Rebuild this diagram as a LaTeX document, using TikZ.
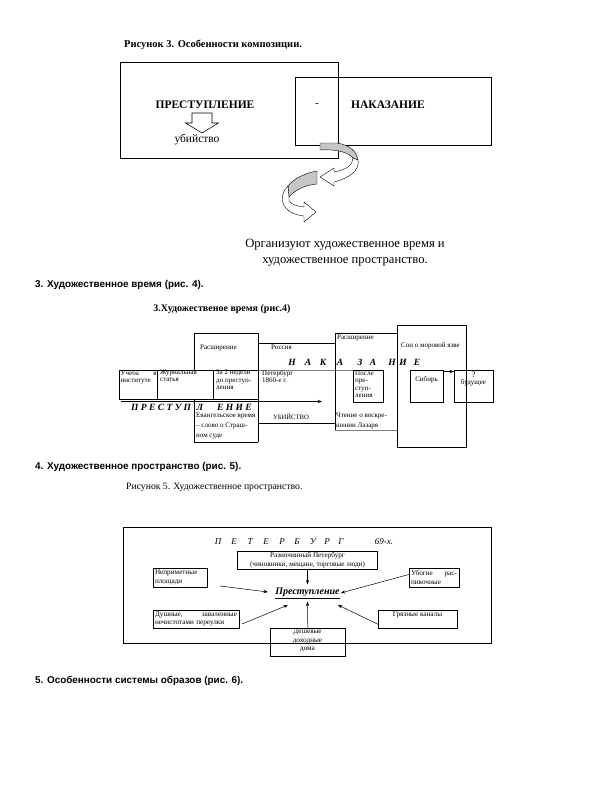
\documentclass[tikz,border=0pt]{standalone}
\usepackage{fontspec}
\setmainfont{Liberation Serif}
\newfontfamily\sansf{Liberation Sans}
\usetikzlibrary{arrows.meta}
\begin{document}
\begin{tikzpicture}[x=1pt,y=-1pt,
  ln/.style={line width=0.55pt},
  thin/.style={line width=0.4pt},
  bx/.style={draw,line width=0.6pt,inner sep=1.5pt},
  arr/.style={line width=0.5pt,-{Stealth[length=4.5pt,width=3.2pt]}},
  head/.style={inner sep=0,anchor=west,font=\sansf\bfseries\fontsize{9.9}{11}\selectfont},
  tiny/.style={inner sep=0,font=\fontsize{7}{7.4}\selectfont,align=left},
  small/.style={inner sep=0,font=\fontsize{7.2}{8.5}\selectfont},
  nk/.style={inner sep=0,font=\bfseries\itshape\fontsize{9.5}{10}\selectfont},
  pt/.style={inner sep=0,font=\itshape\fontsize{9}{10}\selectfont}]
\useasboundingbox (0,0) rectangle (612,792);

% ---------------- Figure 3 ----------------
\node[inner sep=0,anchor=west,font=\bfseries\fontsize{10.5}{12}\selectfont] (t3) at (124,45) {Рисунок 3. Особенности композиции.};
\node[draw,ln,minimum width=218,minimum height=96,anchor=north west,inner sep=0] (lbox) at (120,62) {};
\node[draw,ln,minimum width=196,minimum height=68,anchor=north west,inner sep=0] (rbox) at (295,77) {};
\node[inner sep=0,font=\bfseries\fontsize{11.5}{12}\selectfont] (prs) at (205,105) {ПРЕСТУПЛЕНИЕ};
\node[inner sep=0,font=\fontsize{11}{12}\selectfont] (dash) at (317,105) {-};
\node[inner sep=0,font=\bfseries\fontsize{11.5}{12}\selectfont] (nak) at (388,105) {НАКАЗАНИЕ};
\draw[ln,fill=white] (192,113) -- (212,113) -- (212,123) -- (218.5,123) -- (202,133) -- (185.5,123) -- (192,123) -- cycle;
\node[inner sep=0,font=\fontsize{11.5}{12}\selectfont] (ub) at (197,140) {убийство};
% curved arrow 1
\draw[thin,fill=gray!45] (320,143) -- (337,143) .. controls (350,145) and (357,152) .. (358,160) -- (353,158) .. controls (348,152) and (336,149) .. (320,150) -- cycle;
\draw[thin,fill=white] (358,160) .. controls (360,170) and (350,178) .. (334,182) -- (334,186) -- (320,177) -- (334,168) -- (334,172) .. controls (346,170) and (353,165) .. (353,158) -- cycle;
% curved arrow 2
\draw[thin,fill=gray!45] (317,171) -- (317,184) .. controls (305,185) and (295,190) .. (289,197) -- (288,186) .. controls (293,179) and (305,173) .. (317,171) -- cycle;
\draw[thin,fill=white] (288,186) .. controls (276,198) and (283,214) .. (304,216) -- (304,222) -- (316,212) -- (304,202) -- (304,207) .. controls (293,206) and (287,202) .. (289,197) -- cycle;
\node[inner sep=0,font=\fontsize{12.6}{14}\selectfont] (org1) at (345,245) {Организуют художественное время и};
\node[inner sep=0,font=\fontsize{12.6}{14}\selectfont] (org2) at (345,262) {художественное пространство.};

% ---------------- Heading 3 ----------------
\node[head] (h3) at (35,285) {3. Художественное время (рис. 4).};

% ---------------- Figure 4 ----------------
\node[inner sep=0,font=\bfseries\fontsize{10}{11}\selectfont] (t4) at (222,309) {3.Художественое время (рис.4)};
\draw[ln] (194,333) rectangle (258,370);
\draw[ln] (119,370) -- (258,370);
\draw[thin,gray] (258,370) -- (353,370);
\draw[ln] (119,370) -- (119,399) -- (258,399);
\draw[ln] (157,370) -- (157,399);
\draw[ln] (213,370) -- (213,399);
\draw[ln] (258,333) -- (258,442);
\draw[ln] (194,399) -- (194,442) -- (258,442);
\draw[ln] (258,343) -- (335,343);
\draw[ln] (258,423) -- (335,423);
\draw[ln] (335,333) -- (335,430);
\draw[ln] (335,333) -- (397,333);
\draw[thin,gray] (335,430) -- (397,430);
\draw[ln] (397,325) rectangle (466,447);
\node[draw,ln,minimum width=30,minimum height=32,anchor=north west,inner sep=0] (posle) at (353,370) {};
\node[draw,ln,minimum width=33,minimum height=32,anchor=north west,inner sep=0] (sib) at (410,370) {};
\node[draw,ln,minimum width=39,minimum height=32,anchor=north west,inner sep=0] (bud) at (454,370) {};
\draw[arr] ([yshift=-1.5pt]sib.north east) -- ([yshift=-1.5pt]bud.north west);
\coordinate (pstart) at (121,401.5);
\coordinate (pend) at (322,401.5);
\draw[arr] (pstart) -- (pend);

\node[tiny,anchor=west] (r1) at (200,348) {Расширение};
\node[tiny,anchor=west] (ros) at (271,347) {Россия};
\node[tiny,anchor=west] (r2) at (337,338) {Расширение};
\node[tiny,anchor=west] (son) at (401,346) {Сон о моровой язве};
\node[tiny,anchor=north west,text width=36] (uch) at (120.5,369.8) {Учеба\hfill в\\институте};
\node[tiny,anchor=north west] (zh) at (160,369.8) {Журнальная\\статья};
\node[tiny,anchor=north west] (za) at (216,369.8) {За 2 недели\\до преступ-\\ления};
\node[tiny,anchor=north west] (pet) at (262,369.8) {Петербург\\1860-е г.};
\node[tiny,anchor=north west] (pos) at (355,370.5) {После\\пре-\\ступ-\\ления};
\node[tiny] (sibt) at (426.5,380) {Сибирь};
\node[tiny,align=center,anchor=north] (budt) at (473.5,371.5) {\fontsize{8.5}{9}\selectfont ?\\будущее};
\node[tiny,anchor=north west,font=\fontsize{7}{10}\selectfont] (ev) at (196,412.5) {Евангельское время\\– слово о Страш-\\ном суде};
\node[tiny,anchor=center,font=\fontsize{6.6}{7}\selectfont] (ubi) at (291,417) {УБИЙСТВО};
\node[tiny,anchor=north west,font=\fontsize{7}{10}\selectfont] (cht) at (336,412.5) {Чтение о воскре-\\шении Лазаря};
\foreach \x/\l [count=\i] in {292/Н,308/А,323/К,340/А,360/З,373/А,392/Н,403/И,417/Е}
  \node[nk] (nk\i) at (\x,362) {\l};
\node[nk,anchor=west] (pr1) at (131,407) {П Р Е С Т У П};
\node[nk] (pr2) at (200,407) {Л};
\node[nk,anchor=west] (pr3) at (217,407) {Е Н И Е};

% ---------------- Heading 4 ----------------
\node[head] (h4) at (35,467) {4. Художественное пространство (рис. 5).};

% ---------------- Figure 5 ----------------
\node[inner sep=0,anchor=west,font=\fontsize{9.7}{10}\selectfont] (t5) at (126,487) {Рисунок 5. Художественное пространство.};
\draw[ln] (123,527) rectangle (491,643);
\foreach \x/\l [count=\i] in {218/П,234/Е,250/Т,266/Е,282/Р,297/Б,313/У,327/Р,341/Г}
  \node[pt] (pe\i) at (\x,542) {\l};
\node[pt] (p69) at (384,542) {69-х.};
\node[bx,small,minimum width=140,minimum height=18,align=center,inner sep=0.5pt] (razn) at (307.5,560) {Разночинный Петербург\\(чиновники, мещане, торговые люди)};
\node[bx,small,minimum width=54,minimum height=19,align=left,text width=50] (nepr) at (180,577.5) {Неприметные\\площади};
\node[bx,small,minimum width=86,minimum height=18,align=left,text width=82] (dush) at (196,619) {Душные,\hfill заваленные\\нечистотами переулки};
\node[bx,small,minimum width=50,minimum height=19,align=left,text width=46] (ubog) at (434,577.5) {Убогие\hfill рас-\\пивочные};
\node[bx,small,minimum width=79,minimum height=18,anchor=north west] (gryaz) at (378,610) {};
\node[small] (gryazt) at (417.5,615) {Грязные каналы};
\node[bx,small,minimum width=75,minimum height=28,anchor=north west] (desh) at (270,628) {};
\node[small,align=center,anchor=north] (desht) at (307.5,629) {Дешевые\\доходные\\дома};
\node[inner sep=1pt,font=\bfseries\itshape\fontsize{10}{11}\selectfont] (prest) at (307.5,593) {\underline{Преступление}};
\coordinate (ta) at (220,586);
\coordinate (ea) at (268,592);
\coordinate (tb) at (242,624);
\coordinate (eb) at (288,605);
\coordinate (ef) at (338,605);
\draw[arr] (ta) -- (ea);
\draw[arr] (tb) -- (eb);
\draw[arr] (razn.south) -- ([yshift=2pt]prest.north);
\draw[arr] (desh.north) -- ([yshift=-2pt]prest.south);
\draw[arr] ([yshift=3pt]ubog.west) -- (prest.east);
\draw[arr] ([yshift=-5pt]gryaz.west) -- (ef);

% ---------------- Heading 5 ----------------
\node[head] (h5) at (35,681) {5. Особенности системы образов (рис. 6).};
\end{tikzpicture}
\end{document}
